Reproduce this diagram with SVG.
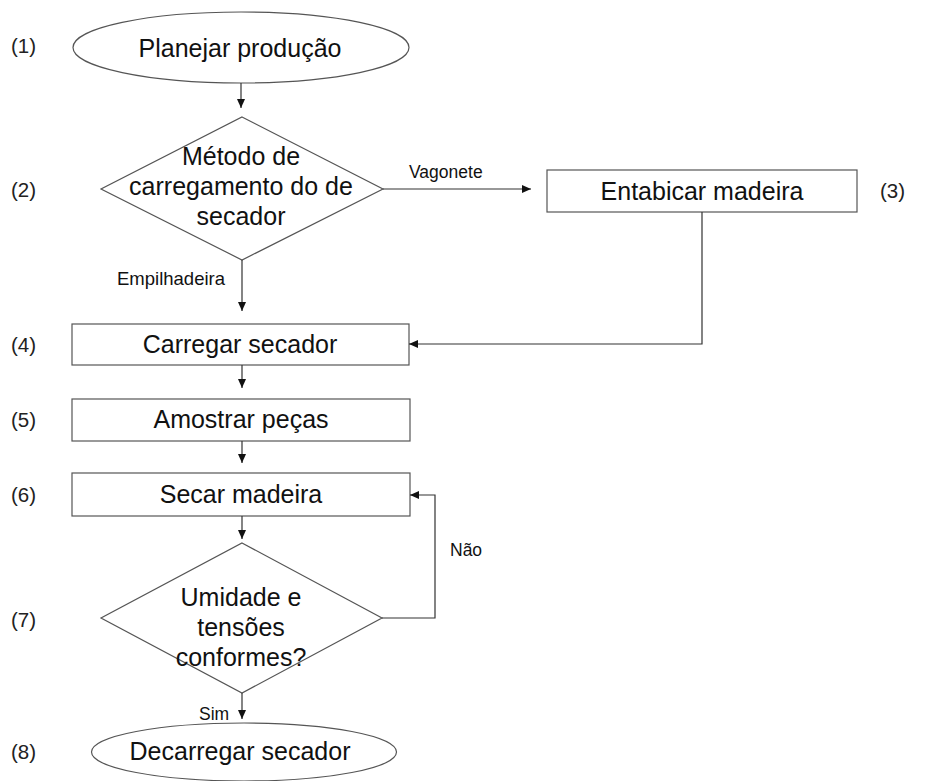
<svg xmlns="http://www.w3.org/2000/svg" width="951" height="781" viewBox="0 0 951 781">
<defs>
<marker id="ah" markerUnits="userSpaceOnUse" markerWidth="9" markerHeight="8" refX="9" refY="4" orient="auto">
<path d="M0,0 L9,4 L0,8 Z" fill="#111"/>
</marker>
<style>
.shape{fill:#fff;stroke:#555;stroke-width:1.2}
.t{font-family:"Liberation Sans",Arial,sans-serif;font-size:25px;fill:#111;text-anchor:middle}
.n{font-family:"Liberation Sans",Arial,sans-serif;font-size:20.5px;fill:#222}
.l{font-family:"Liberation Sans",Arial,sans-serif;font-size:17.5px;fill:#111}
.c{fill:none;stroke:#333;stroke-width:1.2}
</style>
</defs>
<rect width="951" height="781" fill="#fff"/>

<g id="numbers">
<text class="n" x="11" y="53">(1)</text>
<text class="n" x="11" y="197">(2)</text>
<text class="n" x="880" y="198">(3)</text>
<text class="n" x="11" y="352">(4)</text>
<text class="n" x="11" y="427">(5)</text>
<text class="n" x="11" y="502">(6)</text>
<text class="n" x="11" y="627">(7)</text>
<text class="n" x="11" y="759">(8)</text>
</g>

<g id="n1">
<ellipse class="shape" cx="241" cy="47.5" rx="168" ry="35.5"/>
<text class="t" x="240" y="56.5">Planejar produção</text>
</g>

<g id="n2">
<polygon class="shape" points="242,117 383,189 242,260 101,189"/>
<text class="t" x="241" y="165">Método de</text>
<text class="t" x="241" y="195">carregamento do de</text>
<text class="t" x="241" y="225">secador</text>
</g>

<g id="n3">
<rect class="shape" x="547" y="170" width="310" height="42"/>
<text class="t" x="702" y="200">Entabicar madeira</text>
</g>

<g id="n4">
<rect class="shape" x="72" y="324" width="337" height="41"/>
<text class="t" x="240" y="353">Carregar secador</text>
</g>

<g id="n5">
<rect class="shape" x="72" y="399" width="338" height="42"/>
<text class="t" x="241" y="428">Amostrar peças</text>
</g>

<g id="n6">
<rect class="shape" x="72" y="473" width="338" height="43"/>
<text class="t" x="241" y="503">Secar madeira</text>
</g>

<g id="n7">
<polygon class="shape" points="242,543 382,618 242,693 101,618"/>
<text class="t" x="241" y="606">Umidade e</text>
<text class="t" x="241" y="636">tensões</text>
<text class="t" x="241" y="666">conformes?</text>
</g>

<g id="n8">
<ellipse class="shape" cx="244" cy="752" rx="152.5" ry="29"/>
<text class="t" x="240" y="760">Decarregar secador</text>
</g>

<g id="connectors">
<line class="c" x1="241" y1="83" x2="241" y2="108" marker-end="url(#ah)"/>
<line class="c" x1="383" y1="189" x2="531" y2="189" marker-end="url(#ah)"/>
<line class="c" x1="242" y1="260" x2="242" y2="311" marker-end="url(#ah)"/>
<polyline class="c" points="702,212 702,344 409,344" marker-end="url(#ah)"/>
<line class="c" x1="242" y1="365" x2="242" y2="388" marker-end="url(#ah)"/>
<line class="c" x1="242" y1="441" x2="242" y2="463" marker-end="url(#ah)"/>
<line class="c" x1="242" y1="516" x2="242" y2="539" marker-end="url(#ah)"/>
<polyline class="c" points="382,618 435,618 435,495 410,495" marker-end="url(#ah)"/>
<line class="c" x1="242" y1="693" x2="242" y2="719" marker-end="url(#ah)"/>
<text class="l" x="409" y="178">Vagonete</text>
<text class="l" x="117" y="285" style="font-size:18.5px">Empilhadeira</text>
<text class="l" x="450" y="556">Não</text>
<text class="l" x="199" y="720">Sim</text>
</g>
</svg>
